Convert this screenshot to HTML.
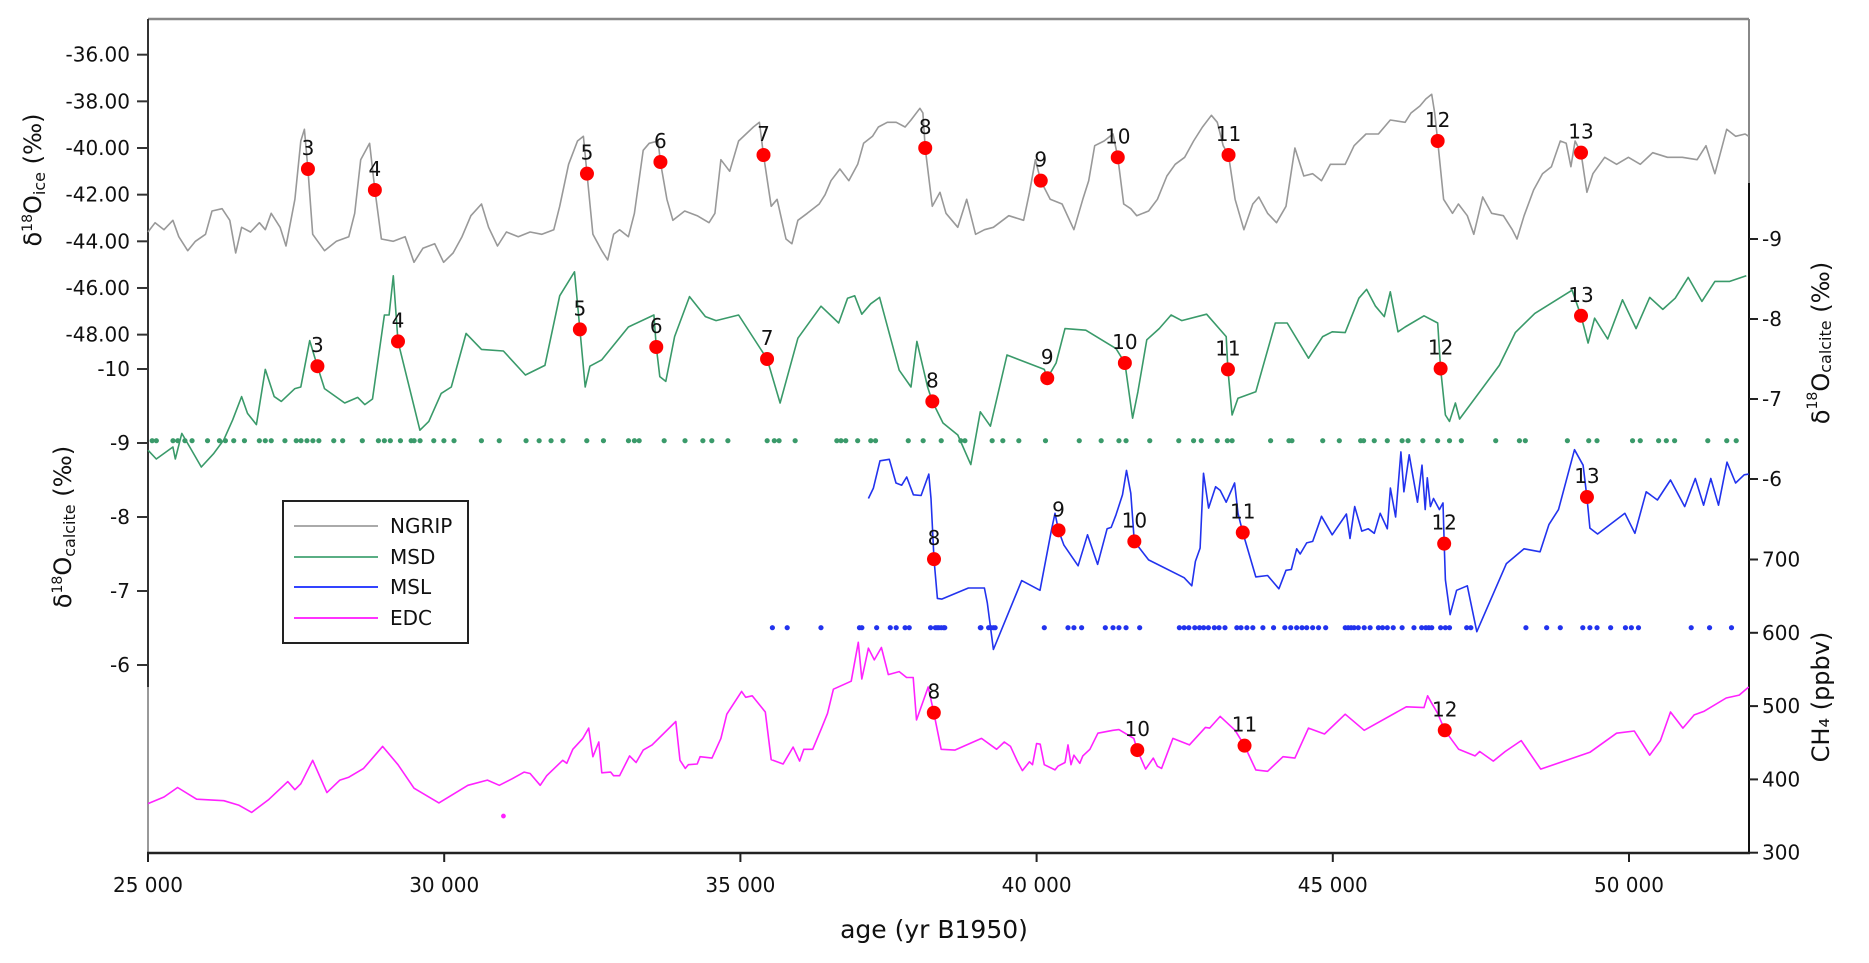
<!DOCTYPE html>
<html><head><meta charset="utf-8">
<style>
html,body{margin:0;padding:0;background:#fff;}
svg{display:block;font-family:"DejaVu Sans","Liberation Sans",sans-serif;}
</style></head>
<body>
<svg id="chart" width="1869" height="963" viewBox="0 0 1869 963" xmlns="http://www.w3.org/2000/svg">
  <g id="spines">
    <line x1="148" y1="19" x2="1749" y2="19" stroke="#888" stroke-width="2.5"/>
    <line x1="148" y1="19" x2="148" y2="687" stroke="#333" stroke-width="2"/>
    <line x1="148" y1="687" x2="148" y2="853" stroke="#999" stroke-width="2"/>
    <line x1="1749" y1="19" x2="1749" y2="183" stroke="#888" stroke-width="2"/>
    <line x1="1749" y1="183" x2="1749" y2="853" stroke="#111" stroke-width="2"/>
    <line x1="147" y1="853" x2="1750" y2="853" stroke="#222" stroke-width="2.5"/>
  </g>
  <g id="ticks"></g>
  <g id="series"></g>
  <g id="markers"></g>
  <text transform="translate(41,180) rotate(-90)" text-anchor="middle" font-size="24" fill="#111">δ<tspan font-size="14" dy="-9">18</tspan><tspan dy="9">O</tspan><tspan font-size="16" dy="4">ice</tspan><tspan dy="-4"> (‰)</tspan></text>
  <text transform="translate(71,527) rotate(-90)" text-anchor="middle" font-size="24" fill="#111">δ<tspan font-size="14" dy="-9">18</tspan><tspan dy="9">O</tspan><tspan font-size="16" dy="4">calcite</tspan><tspan dy="-4"> (‰)</tspan></text>
  <text transform="translate(1822,343) rotate(-90)" text-anchor="middle" font-size="24" fill="#111" dominant-baseline="middle">δ<tspan font-size="14" dy="-9">18</tspan><tspan dy="9">O</tspan><tspan font-size="16" dy="4">calcite</tspan><tspan dy="-4"> (‰)</tspan></text>
  <text transform="translate(1822,697) rotate(-90)" text-anchor="middle" font-size="24" fill="#111" dominant-baseline="middle">CH₄ (ppbv)</text>
  <text x="934" y="938" text-anchor="middle" font-size="25" fill="#111">age (yr B1950)</text>
  <g>
    <rect x="283" y="501" width="185" height="142" fill="#fff" stroke="#222" stroke-width="2"/>
    <line x1="294" y1="526" x2="378" y2="526" stroke="#aaa" stroke-width="2"/>
    <text x="390" y="533" font-size="20" fill="#111">NGRIP</text>
    <line x1="294" y1="557" x2="378" y2="557" stroke="#5aae84" stroke-width="2"/>
    <text x="390" y="564" font-size="20" fill="#111">MSD</text>
    <line x1="294" y1="587" x2="378" y2="587" stroke="#3344ff" stroke-width="2"/>
    <text x="390" y="594" font-size="20" fill="#111">MSL</text>
    <line x1="294" y1="618" x2="378" y2="618" stroke="#ff33ff" stroke-width="2"/>
    <text x="390" y="625" font-size="20" fill="#111">EDC</text>
  </g>
</svg>
<script>
// ---- data ----
const xTicks = [25000, 30000, 35000, 40000, 45000, 50000];
const xTickLabels = ["25 000", "30 000", "35 000", "40 000", "45 000", "50 000"];
const iceTicks = [-36, -38, -40, -42, -44, -46, -48];
const iceTickLabels = ["-36.00", "-38.00", "-40.00", "-42.00", "-44.00", "-46.00", "-48.00"];
const calLeftTicks = [-10, -9, -8, -7, -6];
const calRightTicks = [-9, -8, -7, -6];
const ch4Ticks = [700, 600, 500, 400, 300];

const ngripAge = [25000,25120,25270,25420,25520,25670,25800,25970,26080,26250,26380,26480,26580,26730,26880,26980,27080,27230,27330,27480,27580,27640,27700,27780,27980,28180,28390,28490,28590,28740,28830,28940,29140,29340,29490,29640,29840,29990,30150,30300,30450,30630,30750,30900,31050,31250,31450,31650,31850,31950,32100,32250,32350,32410,32510,32660,32760,32860,32960,33110,33210,33360,33460,33610,33650,33760,33860,34060,34270,34470,34570,34670,34820,34970,35220,35320,35390,35520,35620,35770,35870,35970,36130,36330,36430,36530,36680,36830,36980,37080,37230,37330,37480,37630,37780,37880,38030,38080,38120,38240,38370,38470,38670,38820,38970,39120,39270,39530,39780,39880,39980,40070,40230,40430,40630,40780,40880,40980,41140,41290,41370,41470,41590,41690,41890,42040,42200,42340,42500,42650,42800,42950,43050,43150,43240,43350,43500,43650,43750,43900,44050,44210,44360,44510,44660,44810,44960,45210,45360,45560,45770,45970,46220,46320,46470,46570,46670,46720,46770,46870,47020,47120,47270,47380,47530,47680,47880,48030,48110,48230,48390,48540,48690,48840,48940,49020,49090,49190,49290,49390,49590,49790,49990,50190,50400,50650,50900,51150,51300,51450,51650,51800,51960,52020];
const ngripVal = [-43.6,-43.2,-43.5,-43.1,-43.8,-44.4,-44.0,-43.7,-42.7,-42.6,-43.1,-44.5,-43.4,-43.6,-43.2,-43.5,-42.8,-43.4,-44.2,-42.2,-39.7,-39.2,-40.9,-43.7,-44.4,-44.0,-43.8,-42.8,-40.5,-39.8,-41.8,-43.9,-44.0,-43.8,-44.9,-44.3,-44.1,-44.9,-44.5,-43.8,-42.9,-42.4,-43.4,-44.2,-43.6,-43.8,-43.6,-43.7,-43.5,-42.5,-40.7,-39.7,-39.5,-41.1,-43.7,-44.4,-44.8,-43.7,-43.5,-43.8,-42.8,-40.1,-39.8,-39.7,-40.6,-42.2,-43.1,-42.7,-42.9,-43.2,-42.8,-40.5,-41.0,-39.7,-39.1,-38.9,-40.3,-42.5,-42.2,-43.9,-44.1,-43.1,-42.8,-42.4,-42.0,-41.4,-40.9,-41.4,-40.7,-39.8,-39.5,-39.1,-38.9,-38.9,-39.1,-38.8,-38.3,-38.5,-40.0,-42.5,-41.9,-42.8,-43.4,-42.2,-43.7,-43.5,-43.4,-42.9,-43.1,-41.9,-40.5,-41.4,-42.2,-42.4,-43.5,-42.2,-41.4,-39.9,-39.7,-39.4,-40.4,-42.4,-42.6,-42.9,-42.7,-42.2,-41.2,-40.7,-40.4,-39.7,-39.1,-38.6,-38.9,-39.9,-40.3,-42.2,-43.5,-42.4,-42.1,-42.8,-43.2,-42.5,-40.0,-41.2,-41.1,-41.4,-40.7,-40.7,-39.9,-39.4,-39.4,-38.8,-38.9,-38.5,-38.2,-37.9,-37.7,-38.5,-39.7,-42.2,-42.8,-42.4,-42.9,-43.7,-42.1,-42.8,-42.9,-43.5,-43.9,-42.9,-41.8,-41.1,-40.8,-39.7,-39.8,-40.8,-39.7,-40.2,-41.9,-41.1,-40.4,-40.7,-40.4,-40.7,-40.2,-40.4,-40.4,-40.5,-39.9,-41.1,-39.2,-39.5,-39.4,-39.5];

const msdAge = [25000,25140,25420,25460,25570,25720,25900,26110,26280,26430,26580,26680,26830,26980,27130,27250,27480,27580,27730,27860,27980,28320,28540,28660,28790,28990,29070,29140,29220,29590,29740,29950,30120,30370,30630,31000,31370,31700,31950,32200,32290,32380,32460,32660,33110,33540,33580,33640,33740,33890,34140,34410,34590,34970,35450,35670,35970,36360,36660,36810,36930,37050,37200,37350,37680,37880,37980,38160,38240,38420,38670,38890,39050,39220,39500,40130,40180,40330,40480,40830,41340,41490,41620,41710,41860,42070,42270,42450,42870,43200,43230,43300,43400,43700,44030,44230,44590,44830,44990,45210,45440,45570,45720,45870,45970,46100,46220,46540,46770,46820,46900,46970,47070,47140,47810,48080,48410,49040,49190,49310,49420,49640,49890,50120,50350,50570,50780,51000,51230,51450,51700,51980];
const msdVal = [-6.36,-6.25,-6.40,-6.25,-6.57,-6.38,-6.15,-6.32,-6.49,-6.74,-7.03,-6.82,-6.68,-7.37,-7.03,-6.97,-7.13,-7.15,-7.73,-7.41,-7.13,-6.95,-7.02,-6.93,-7.00,-8.05,-8.05,-8.54,-7.72,-6.61,-6.72,-7.07,-7.15,-7.82,-7.62,-7.60,-7.30,-7.42,-8.29,-8.59,-7.87,-7.15,-7.41,-7.49,-7.90,-8.05,-7.65,-7.28,-7.22,-7.78,-8.28,-8.03,-7.98,-8.05,-7.50,-6.95,-7.76,-8.16,-7.95,-8.26,-8.29,-8.06,-8.19,-8.27,-7.36,-7.15,-7.72,-7.15,-6.97,-6.70,-6.55,-6.18,-6.84,-6.66,-7.55,-7.37,-7.26,-7.45,-7.88,-7.86,-7.63,-7.45,-6.76,-7.09,-7.74,-7.88,-8.05,-7.98,-8.06,-7.78,-7.37,-6.80,-7.01,-7.09,-7.95,-7.95,-7.51,-7.78,-7.84,-7.83,-8.26,-8.37,-8.16,-8.03,-8.34,-7.84,-7.90,-8.04,-7.95,-7.38,-6.80,-6.72,-6.95,-6.75,-7.42,-7.83,-8.07,-8.36,-8.04,-7.70,-8.01,-7.75,-8.24,-7.88,-8.27,-8.12,-8.26,-8.52,-8.22,-8.47,-8.47,-8.54];
const msdSampleZoom = [255,262,290,298,310,322,348,368,378,392,410,435,445,455,478,497,505,515,525,535,560,575,608,635,645,655,672,690,695,705,728,745,762,808,838,883,905,925,945,985,1013,1055,1065,1073,1115,1150,1180,1195,1222,1288,1300,1308,1335,1405,1412,1420,1440,1462,1470,1525,1550];
const msdSampleAge = [38390,38720,38790,39250,39430,39700,40150,40720,41090,41390,41510,41910,42400,42650,42780,43050,43220,43300,43950,44260,44310,44830,45110,45470,45520,45700,45920,46170,46270,46520,46770,46970,47170,47750,48150,48250,48960,49320,49460,50060,50190,50500,50630,50770,51330,51650,51810];

const mslAge = [37160,37245,37357,37514,37627,37723,37807,37920,38050,38180,38218,38268,38325,38398,38848,39118,39168,39270,39748,40057,40250,40310,40370,40460,40700,40860,41030,41190,41260,41340,41450,41518,41590,41650,41890,42490,42620,42680,42760,42817,42903,43022,43100,43200,43343,43400,43480,43700,43900,44090,44210,44300,44390,44450,44560,44660,44810,44990,45230,45290,45370,45490,45600,45700,45800,45920,45972,46060,46150,46200,46290,46430,46505,46560,46596,46647,46700,46800,46860,46880,46900,46980,47090,47270,47430,47930,48230,48500,48650,48810,49080,49225,49290,49340,49470,49930,50100,50290,50480,50700,50940,51120,51260,51380,51510,51655,51800,51945,52020];
const mslVal = [-8.25,-8.39,-8.76,-8.78,-8.46,-8.43,-8.54,-8.30,-8.29,-8.58,-8.25,-7.43,-6.90,-6.89,-7.04,-7.04,-6.84,-6.21,-7.14,-7.01,-7.82,-8.05,-7.82,-7.62,-7.34,-7.76,-7.36,-7.84,-7.86,-8.03,-8.30,-8.63,-8.32,-7.67,-7.42,-7.18,-7.07,-7.40,-7.58,-8.59,-8.12,-8.41,-8.36,-8.20,-8.46,-8.05,-7.79,-7.19,-7.21,-7.03,-7.28,-7.29,-7.57,-7.50,-7.65,-7.67,-8.01,-7.76,-8.04,-7.71,-8.14,-7.81,-7.84,-7.78,-8.05,-7.84,-8.39,-8.00,-8.88,-8.34,-8.84,-8.20,-8.70,-8.10,-8.53,-8.14,-8.25,-8.10,-8.19,-7.64,-7.15,-6.68,-7.01,-7.07,-6.45,-7.37,-7.57,-7.53,-7.90,-8.10,-8.91,-8.70,-8.27,-7.85,-7.77,-8.05,-7.78,-8.34,-8.23,-8.50,-8.14,-8.52,-8.16,-8.52,-8.16,-8.74,-8.46,-8.57,-8.58];
const mslSampleAge = [35540,35790,36360,37010,37050,37300,37530,37630,37780,37850,38210,38290,38350,38430,39060,39230,39300,38320,38390,38450,39050,39190,39270,40130,40530,40630,40760,41160,41290,41390,41510,41740,42410,42490,42570,42670,42750,42820,42900,43000,43080,43180,43380,43450,43550,43650,43820,44000,44190,44290,44390,44480,44560,44660,44760,44880,45210,45260,45310,45360,45430,45530,45630,45770,45840,45920,46020,46170,46370,46500,46570,46620,46670,46820,46900,46970,47260,47330,48260,48610,48840,49220,49340,49460,49690,49940,50040,50160,51050,51360,51730];

const edcAge = [25000,25270,25500,25820,26280,26530,26750,27030,27360,27480,27580,27780,28020,28240,28390,28640,28960,29220,29490,29910,30400,30730,30930,31150,31350,31450,31620,31730,32000,32070,32170,32340,32440,32510,32610,32660,32810,32860,32960,33130,33240,33360,33510,33910,33980,34070,34120,34270,34320,34520,34670,34770,35020,35090,35200,35420,35520,35720,35890,36000,36070,36220,36370,36470,36570,36870,36990,37050,37160,37260,37380,37497,37680,37805,37917,37973,38170,38265,38390,38620,39070,39325,39455,39560,39680,39760,39880,39930,40000,40060,40130,40310,40360,40480,40530,40580,40630,40730,40780,40900,41035,41290,41390,41640,41700,41840,41970,42040,42110,42300,42580,42850,42920,43100,43350,43510,43700,43900,44160,44360,44590,44860,45210,45530,46240,46540,46600,46670,46770,46890,47125,47400,47480,47710,47910,48180,48510,49340,49790,50090,50350,50530,50700,50910,51100,51270,51640,51860,52020];
const edcVal = [367,376,389,373,371,365,355,372,397,386,394,426,382,399,403,415,445,420,388,368,392,399,392,401,410,408,392,405,426,422,441,456,470,431,451,409,410,405,405,432,423,440,447,479,426,415,420,421,431,429,456,489,520,512,514,492,427,421,444,425,441,441,470,490,523,534,587,537,579,563,580,543,547,539,539,481,526,491,441,440,456,441,451,445,424,412,424,420,449,448,420,413,418,423,447,420,433,422,432,441,463,467,468,456,440,414,429,418,415,456,447,471,470,486,467,446,413,411,431,429,470,462,489,467,499,498,514,504,490,467,441,432,438,425,438,453,414,437,463,466,433,453,492,470,488,493,511,515,526];
const edcSampleAge = [31000];
const edcSampleVal = [350];

const ngripEventId = ["3","4","5","6","7","8","9","10","11","12","13"];
const ngripEventAge = [27700,28830,32410,33650,35390,38120,40070,41370,43240,46770,49190];
const ngripEventVal = [-40.9,-41.8,-41.1,-40.6,-40.3,-40.0,-41.4,-40.4,-40.3,-39.7,-40.2];
const msdEventId = ["3","4","5","6","7","8","9","10","11","12","13"];
const msdEventAge = [27860,29220,32290,33580,35450,38240,40180,41490,43230,46820,49190];
const msdEventVal = [-7.41,-7.72,-7.87,-7.65,-7.50,-6.97,-7.26,-7.45,-7.37,-7.38,-8.04];
const mslEventId = ["8","9","10","11","12","13"];
const mslEventAge = [38268,40370,41650,43480,46880,49290];
const mslEventVal = [-7.43,-7.82,-7.67,-7.79,-7.64,-8.27];
const edcEventId = ["8","10","11","12"];
const edcEventAge = [38265,41700,43510,46890];
const edcEventVal = [491,440,446,467];

// ---- scales ----
const X = a => 148 + (a - 25000) * (296.2 / 5000);
const Yice = v => 148 - (v + 40) * 23.33;
const Ymsd = v => 239 + (v + 9) * 80;
const Ymsl = v => 369 + (v + 10) * 74;
const Ych4 = v => 852.7 - (v - 300) * 0.733;
const msdSampleY = 440.7, mslSampleY = 627.7;

const NS = "http://www.w3.org/2000/svg";
function mk(tag, attrs, parent) {
  const el = document.createElementNS(NS, tag);
  for (const k in attrs) el.setAttribute(k, attrs[k]);
  parent.appendChild(el);
  return el;
}
const ticksG = document.getElementById('ticks');
const seriesG = document.getElementById('series');
const markG = document.getElementById('markers');

xTicks.forEach((t, i) => {
  const l = mk('line', {x1: X(t), x2: X(t), y1: 853, y2: 862, stroke: '#222', 'stroke-width': 2}, ticksG);
  
  
  const tx = mk('text', {x: X(t), y: 892, 'text-anchor': 'middle', 'font-size': 20, fill: '#111'}, ticksG);
  tx.textContent = xTickLabels[i];
  
  
});
iceTicks.forEach((t, i) => {
  const l = mk('line', {x1: 137, x2: 148, y1: Yice(t), y2: Yice(t), stroke: '#333', 'stroke-width': 2}, ticksG);
  
  
  const tx = mk('text', {x: 130, y: Yice(t) + 7, 'text-anchor': 'end', 'font-size': 20, fill: '#111'}, ticksG);
  tx.textContent = iceTickLabels[i];
  
  
});
calLeftTicks.forEach(t => {
  const l = mk('line', {x1: 137, x2: 148, y1: Ymsl(t), y2: Ymsl(t), stroke: '#333', 'stroke-width': 2}, ticksG);
  
  
  const tx = mk('text', {x: 130, y: Ymsl(t) + 7, 'text-anchor': 'end', 'font-size': 20, fill: '#111'}, ticksG);
  tx.textContent = '-' + Math.abs(t);
  
  
});
calRightTicks.forEach(t => {
  const l = mk('line', {x1: 1749, x2: 1758, y1: Ymsd(t), y2: Ymsd(t), stroke: '#222', 'stroke-width': 2}, ticksG);
  
  
  const tx = mk('text', {x: 1762, y: Ymsd(t) + 7, 'font-size': 20, fill: '#111'}, ticksG);
  tx.textContent = '-' + Math.abs(t);
  
  
});
ch4Ticks.forEach(t => {
  const l = mk('line', {x1: 1749, x2: 1758, y1: Ych4(t), y2: Ych4(t), stroke: '#222', 'stroke-width': 2}, ticksG);
  
  
  const tx = mk('text', {x: 1762, y: Ych4(t) + 7, 'font-size': 20, fill: '#111'}, ticksG);
  tx.textContent = String(t);
  
  
});

function line(ages, vals, yf, color, name) {
  const d = ages.map((a, i) => (i ? 'L' : 'M') + X(a).toFixed(1) + ',' + yf(vals[i]).toFixed(1)).join('');
  const p = mk('path', {d: d, fill: 'none', stroke: color, 'stroke-width': 1.6, 'stroke-linejoin': 'round'}, seriesG);
  
  
}
line(ngripAge, ngripVal, Yice, '#999', 'ngrip-line');
line(msdAge, msdVal, Ymsd, '#3a9a6a', 'msd-line');
line(mslAge, mslVal, Ymsl, '#2233ee', 'msl-line');
line(edcAge, edcVal, Ych4, '#ff22ff', 'edc-line');

const msdX = msdSampleZoom.map(z => 25000 + (z - 248) * 10.05).concat(msdSampleAge);
msdX.forEach(a => {
  const c = mk('circle', {cx: X(a), cy: msdSampleY, r: 2.6, fill: '#3a9a6a'}, seriesG);
  
  
});
mslSampleAge.forEach(a => {
  const c = mk('circle', {cx: X(a), cy: mslSampleY, r: 2.6, fill: '#2233ee'}, seriesG);
  
  
});
edcSampleAge.forEach((a, i) => {
  const c = mk('circle', {cx: X(a), cy: Ych4(edcSampleVal[i]), r: 2.4, fill: '#ff22ff'}, seriesG);
  
  
});

function events(ids, ages, vals, yf, name) {
  ids.forEach((id, i) => {
    const cx = X(ages[i]), cy = yf(vals[i]);
    const c = mk('circle', {cx: cx, cy: cy, r: 7, fill: '#ff0000'}, markG);
    
    
    const t = mk('text', {x: cx, y: cy - 14, 'text-anchor': 'middle', 'font-size': 20, fill: '#111'}, markG);
    t.textContent = id;
    
    
  });
}
events(ngripEventId, ngripEventAge, ngripEventVal, Yice, 'ngrip-event');
events(msdEventId, msdEventAge, msdEventVal, Ymsd, 'msd-event');
events(mslEventId, mslEventAge, mslEventVal, Ymsl, 'msl-event');
events(edcEventId, edcEventAge, edcEventVal, Ych4, 'edc-event');
</script>
</body></html>
